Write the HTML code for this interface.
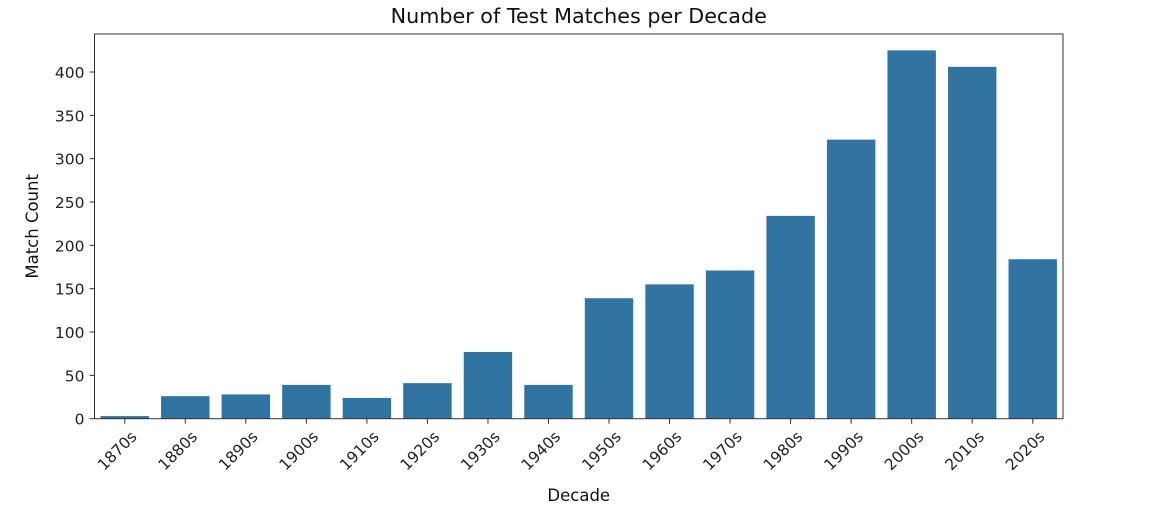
<!DOCTYPE html>
<html><head><meta charset="utf-8"><style>
body{margin:0;background:#fff;}
svg{display:block;font-family:"DejaVu Sans","Liberation Sans",sans-serif;}
</style></head><body>
<svg id="chart" width="1160" height="522"></svg>
<script>
const categories=["1870s","1880s","1890s","1900s","1910s","1920s","1930s","1940s","1950s","1960s","1970s","1980s","1990s","2000s","2010s","2020s"];
const matchCounts=[3,26,28,39,24,41,77,39,139,155,171,234,322,425,406,184];
const yTicks=[0,50,100,150,200,250,300,350,400];
const NS="http://www.w3.org/2000/svg";
const svg=document.getElementById('chart');
const L=94.5,R=1063,T=34,B=418.7;
const slot=(R-L)/categories.length;
const x=i=>L+slot*i;
const y=v=>B-v*0.8667;
function mk(tag,attrs,text){const e=document.createElementNS(NS,tag);for(const k in attrs)e.setAttribute(k,attrs[k]);if(text!==undefined)e.textContent=text;svg.appendChild(e);return e;}
categories.forEach((c,i)=>{
  const r=mk('rect',{x:x(i)+slot*0.1,y:y(matchCounts[i]),width:slot*0.8,height:B-y(matchCounts[i]),fill:'#3274a1'});
  
  
  const cx=x(i)+slot/2;
  mk('line',{x1:cx,x2:cx,y1:B,y2:B+5,stroke:'#333','stroke-width':1});
  const t=mk('text',{x:cx+5,y:B+11,'font-size':15.5,fill:'#222','text-anchor':'end',transform:`rotate(-45 ${cx+5} ${B+11})`,'dominant-baseline':'hanging'},c);
  
  
});
yTicks.forEach(v=>{
  mk('line',{x1:L-5,x2:L,y1:y(v),y2:y(v),stroke:'#333','stroke-width':1});
  const t=mk('text',{x:L-10,y:y(v)+6,'font-size':15.5,fill:'#222','text-anchor':'end'},v);
  
  
});
const frame=mk('rect',{x:L,y:T,width:R-L,height:B-T,fill:'none',stroke:'#333','stroke-width':1});


const title=mk('text',{x:(L+R)/2,y:23,'font-size':20.7,fill:'#111','text-anchor':'middle'},'Number of Test Matches per Decade');


const xt=mk('text',{x:(L+R)/2,y:501,'font-size':16.5,fill:'#111','text-anchor':'middle'},'Decade');


const yt=mk('text',{x:38,y:(T+B)/2,'font-size':16.5,fill:'#111','text-anchor':'middle',transform:`rotate(-90 38 ${(T+B)/2})`},'Match Count');


</script>
</body></html>
